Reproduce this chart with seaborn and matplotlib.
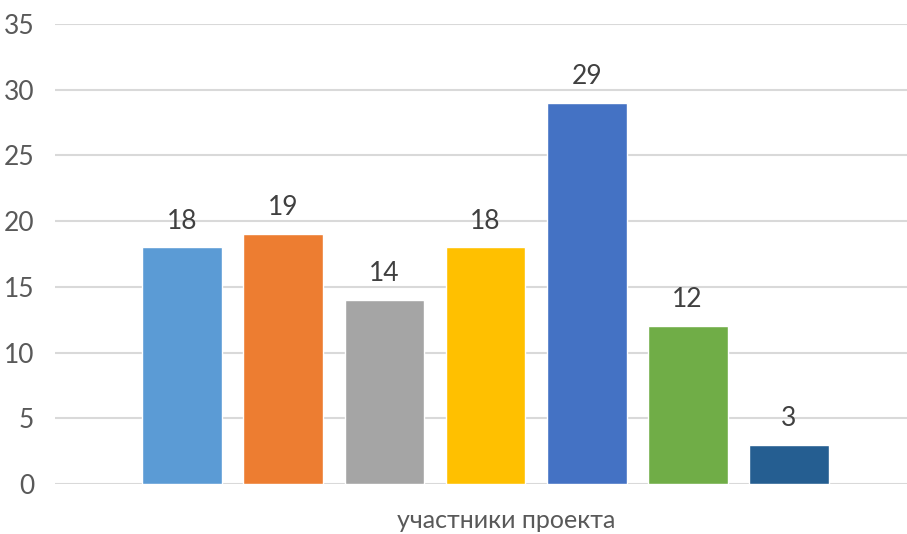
import matplotlib
matplotlib.use("Agg")
import matplotlib.pyplot as plt
import seaborn as sns
import pandas as pd

# данные с диаграммы
categories = ["Ряд 1", "Ряд 2", "Ряд 3", "Ряд 4", "Ряд 5", "Ряд 6", "Ряд 7"]
values = [18, 19, 14, 18, 29, 12, 3]
colors = ["#5B9BD5", "#ED7D31", "#A5A5A5", "#FFC000", "#4472C4", "#70AD47", "#255E91"]
x_label = "участники проекта"
y_ticks = [0, 5, 10, 15, 20, 25, 30, 35]

sns.set_style("white")
plt.rcParams['font.family'] = ['Lato', 'DejaVu Sans']

df = pd.DataFrame({"cat": categories, "val": values})

fig = plt.figure(figsize=(9.07, 5.34), dpi=100)
ax = fig.add_axes([55 / 907, 50 / 534, 852 / 907, 460 / 534])

sns.barplot(data=df, x="cat", y="val", hue="cat", palette=colors,
            width=0.79, legend=False, ax=ax, saturation=1)

ax.set_ylim(0, 35)
ax.set_xlim(-1.26, 7.17)
ax.set_yticks(y_ticks)
ax.yaxis.grid(True, color="#D9D9D9", linewidth=1.5)
ax.set_axisbelow(True)
for s in ax.spines.values():
    s.set_visible(False)
ax.tick_params(axis="y", length=0, labelsize=19, labelcolor="#595959", pad=15)
ax.tick_params(axis="x", length=0)
ax.set_xticks([])
ax.set_ylabel("")

ax.set_xlabel(x_label, fontsize=18, color="#595959")
ax.xaxis.set_label_coords(0.53, -0.055)

for c in ax.containers:
    ax.bar_label(c, fontsize=19, color="#404040", padding=10)

fig.savefig("out.png", dpi=100)
